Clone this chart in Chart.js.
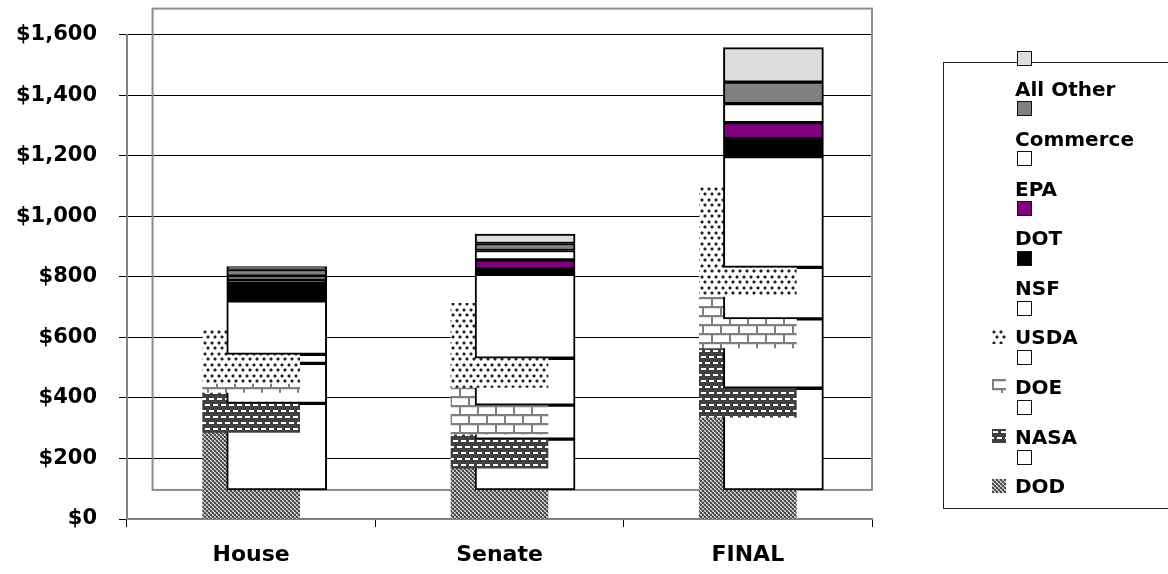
<!DOCTYPE html>
<html>
<head>
<meta charset="utf-8">
<script src="https://cdn.jsdelivr.net/npm/chart.js@4.4.1/dist/chart.umd.min.js"></script>
<style>
  html, body { margin: 0; padding: 0; background: #fff; }
  #wrap { position: relative; width: 1168px; height: 574px; overflow: hidden; }
  #chart { position: absolute; left: 0; top: 0; }
  #legendFrame { position: absolute; left: 943px; top: 62px; width: 260px; height: 447px;
                 border: 1.5px solid #222; box-sizing: border-box; }
  .lg-label { position: absolute; left: 1015px; font: bold 20px "DejaVu Sans", sans-serif;
              line-height: 20px; color: #000; white-space: nowrap; }
  .lg-box { position: absolute; left: 1017px; width: 15px; height: 15px; box-sizing: border-box;
            border: 1.5px solid #111; }
  .lg-icon { position: absolute; left: 992px; }
</style>
</head>
<body>
<div id="wrap">
  <canvas id="chart" width="1168" height="574"></canvas>
  <div id="legendFrame"></div>
</div>
<script>
// Appropriations by agency ($ millions) for each bill version
const categories = ['House', 'Senate', 'FINAL'];
const agencies = ['DOD', 'NASA', 'DOE', 'USDA', 'NSF', 'DOT', 'EPA', 'Commerce', 'All Other'];

const dodValues      = [286, 168, 336];
const nasaValues     = [132, 112, 229];
const doeValues      = [30, 155, 170];
const usdaValues     = [177, 277, 366];
const nsfValues      = [59, 18, 59];
const dotValues      = [10, 30, 53];
const epaValues      = [12, 31, 63];
const commerceValues = [22, 23, 71];
const allOtherValues = [10, 31, 114];

const yTickValues = [0, 200, 400, 600, 800, 1000, 1200, 1400, 1600];

const seriesValues = [dodValues, nasaValues, doeValues, usdaValues, nsfValues,
                      dotValues, epaValues, commerceValues, allOtherValues];

// ---- styling ----
const outlineFill = ['#ffffff', '#ffffff', '#ffffff', '#ffffff', '#000000',
                     '#800080', '#ffffff', '#808080', '#dddddd'];
const PATTERNED_COUNT = 4;          // DOD, NASA, DOE, USDA get a textured front layer
const BACK_SHIFT_X = 0.103;         // back layer offset, in category units
const BACK_SHIFT_Y = 96;            // back layer offset, in axis units

function tile(w, h, paint) {
  const c = document.createElement('canvas');
  c.width = w; c.height = h;
  paint(c.getContext('2d'));
  return c;
}
function px(g, color, x, y, w, h) { g.fillStyle = color; g.fillRect(x, y, w || 1, h || 1); }

const tiles = [
  // DOD: small checker
  tile(4, 4, g => {
    px(g, '#4a4a4a', 0, 0, 2, 2);
    px(g, '#4a4a4a', 2, 2, 2, 2);
    [[2, 0], [0, 2]].forEach(([x, y]) => {
      px(g, '#f4f4f4', x, y); px(g, '#9a9a9a', x + 1, y);
      px(g, '#9a9a9a', x, y + 1); px(g, '#cfcfcf', x + 1, y + 1);
    });
  }),
  // NASA: dark field with staggered white dashes
  tile(8, 12, g => {
    px(g, '#404040', 0, 0, 8, 12);
    px(g, '#fff', 1, 2, 5, 2);
    px(g, '#fff', 5, 8, 3, 2);
    px(g, '#fff', 0, 8, 2, 2);
  }),
  // DOE: brick
  tile(18, 18, g => {
    px(g, '#fff', 0, 0, 18, 18);
    px(g, '#e0e0e0', 0, 2, 18, 1); px(g, '#e0e0e0', 0, 11, 18, 1);
    px(g, '#7f7f7f', 0, 0, 18, 2);
    px(g, '#7f7f7f', 0, 9, 18, 2);
    px(g, '#7f7f7f', 0, 2, 2, 7);
    px(g, '#7f7f7f', 9, 11, 2, 7);
  }),
  // USDA: scattered dots
  tile(7, 11, g => {
    px(g, '#fff', 0, 0, 7, 11);
    [[1, 1], [4, 6]].forEach(([x, y]) => {
      px(g, '#999', x - 1, y, 1, 2); px(g, '#999', x + 2, y, 1, 2);
      px(g, '#999', x, y - 1, 2, 1); px(g, '#999', x, y + 2, 2, 1);
      px(g, '#222', x, y, 2, 2);
    });
  })
];

const ctx = document.getElementById('chart').getContext('2d');
const patterns = tiles.map(t => ctx.createPattern(t, 'repeat'));

// cumulative [low, high] ranges for each agency within each bill
function ranges() {
  const out = seriesValues.map(() => []);
  categories.forEach((_, ci) => {
    let run = 0;
    seriesValues.forEach((vals, si) => {
      out[si].push([run, run + vals[ci]]);
      run += vals[ci];
    });
  });
  return out;
}
const stackRanges = ranges();

// draw sequence: textured layer i, then outlined layer i, for the bottom agencies; then remaining outlines
const datasets = [];
let seq = 0;
agencies.forEach((name, si) => {
  if (si < PATTERNED_COUNT) {
    datasets.push({
      label: name + ' ',
      data: stackRanges[si],
      xAxisID: 'x', yAxisID: 'y',
      backgroundColor: patterns[si],
      borderWidth: 0,
      grouped: false,
      barThickness: 97,
      order: 100 - seq++
    });
  }
  datasets.push({
    label: name,
    data: stackRanges[si].map((r, ci) => ({ x: ci, y: r })),
    xAxisID: 'x2', yAxisID: 'y2',
    backgroundColor: outlineFill[si],
    borderColor: '#000',
    borderWidth: 2,
    borderSkipped: false,
    grouped: false,
    barThickness: 100,
    order: 100 - seq++
  });
});

// frame around the offset back layer
const backFrame = {
  id: 'backFrame',
  beforeDatasetsDraw(chart) {
    const { ctx, chartArea, scales } = chart;
    const left = scales.x2.getPixelForValue(-0.5);
    const bottom = scales.y2.getPixelForValue(0);
    const top = chartArea.top - 26;
    ctx.save();
    ctx.strokeStyle = '#8c8c8c';
    ctx.lineWidth = 2;
    ctx.strokeRect(left, top, chartArea.right - left, bottom - top);
    ctx.restore();
  }
};

new Chart(ctx, {
  type: 'bar',
  data: { labels: categories, datasets },
  plugins: [backFrame],
  options: {
    responsive: false,
    animation: false,
    layout: { padding: { left: 0, right: 296, top: 34, bottom: 0 } },
    plugins: { legend: { display: false }, tooltip: { enabled: false } },
    scales: {
      x: {
        type: 'category',
        offset: true,
        grid: { drawOnChartArea: false, drawTicks: true, tickLength: 8, color: '#000', offset: true },
        border: { color: '#808080', width: 2 },
        ticks: { color: '#000', padding: 15, font: { family: 'DejaVu Sans', size: 22, weight: 'bold' } },
        afterFit: s => { s.height = 55; }
      },
      y: {
        type: 'linear',
        min: 0, max: 1600,
        afterBuildTicks: s => { s.ticks = yTickValues.map(v => ({ value: v })); },
        grid: { color: '#000', lineWidth: 1, tickLength: 8, drawTicks: true },
        border: { color: '#808080', width: 2 },
        ticks: {
          color: '#000', padding: 22,
          font: { family: 'DejaVu Sans', size: 21, weight: 'bold' },
          callback: v => '$' + Number(v).toLocaleString('en-US')
        },
        afterFit: s => { s.width = 127; }
      },
      x2: {
        type: 'linear', display: false, offset: false,
        min: -0.5 - BACK_SHIFT_X, max: categories.length - 0.5 - BACK_SHIFT_X
      },
      y2: {
        type: 'linear', display: false,
        min: -BACK_SHIFT_Y, max: 1600 - BACK_SHIFT_Y
      }
    }
  }
});

// legend: outlined swatch above each agency name, textured sample beside the bottom four
const wrap = document.getElementById('wrap');
const legendOrder = agencies.slice().reverse();
legendOrder.forEach((name, k) => {
  const si = agencies.indexOf(name);
  const box = document.createElement('div');
  box.className = 'lg-box';
  box.style.top = (51 + k * 49.9) + 'px';
  box.style.background = outlineFill[si];
  wrap.appendChild(box);

  const capTop = 81.7 + k * 49.6;
  const label = document.createElement('div');
  label.className = 'lg-label';
  label.style.top = (capTop - 2.3) + 'px';
  label.textContent = name;
  wrap.appendChild(label);

  if (si < PATTERNED_COUNT) {
    const ic = document.createElement('canvas');
    ic.width = 14; ic.height = 14;
    ic.className = 'lg-icon';
    ic.style.top = (capTop) + 'px';
    const g = ic.getContext('2d');
    g.fillStyle = g.createPattern(tiles[si], 'repeat');
    g.fillRect(0, 0, 14, 14);
    wrap.appendChild(ic);
  }
});
</script>
</body>
</html>
